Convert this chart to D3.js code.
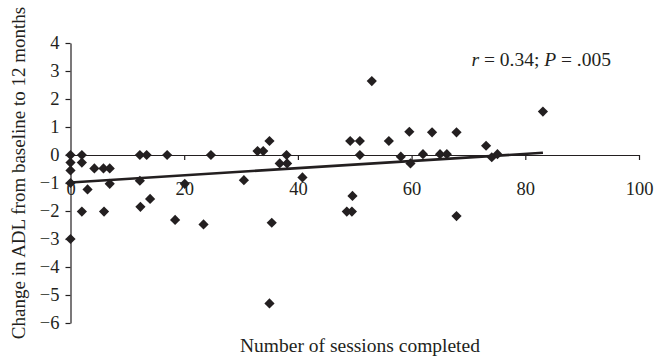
<!DOCTYPE html>
<html>
<head>
<meta charset="utf-8">
<script src="https://cdn.jsdelivr.net/npm/d3@7"></script>
<style>
  body { margin: 0; background: #fff; }
  svg text { font-family: "Liberation Serif", "Times New Roman", serif; fill: #231f20; }
  .axis path, .axis line { stroke: #231f20; stroke-width: 1.2; }
</style>
</head>
<body>
<div id="container"></div>
<script>
// sessions completed vs change in ADL
var sessions = [0, 0, 0, 0, 0, 2, 2, 2, 3, 4.2, 5.8, 5.9, 6.9, 6.9,
    12.2, 12.2, 12.3, 13.4, 14, 17, 18.4, 20.1, 23.4, 24.7,
    30.5, 32.9, 33.9, 35, 35, 35.4, 36.8, 38, 38.1, 40.8,
    48.6, 49.2, 49.5, 49.6, 50.9, 50.9, 53, 56, 58.1, 59.6, 59.8,
    62, 63.6, 65, 66.2, 67.9, 67.9, 73.1, 74.1, 75.1, 83.1];
var adlChange = [0, -0.27, -0.55, -1.0, -3.0, 0, -0.27, -2.02, -1.23, -0.48, -0.48, -2.02, -0.48, -1.03,
    0, -0.92, -1.85, 0, -1.57, 0, -2.32, -1.03, -2.48, 0,
    -0.9, 0.14, 0.14, 0.5, -5.3, -2.42, -0.3, 0, -0.3, -0.8,
    -2.02, 0.5, -2.02, -1.46, 0.5, 0, 2.64, 0.5, -0.06, 0.83, -0.3,
    0.03, 0.81, 0.03, 0.03, 0.81, -2.18, 0.33, -0.08, 0.03, 1.55];
var xTicks = [0, 20, 40, 60, 80, 100];
var yTicks = [4, 3, 2, 1, 0, -1, -2, -3, -4, -5, -6];
var trend = [[0, -0.98], [83.1, 0.08]];

var width = 656, height = 356;
var svg = d3.select("#container").append("svg")
    .attr("width", width).attr("height", height);

var x = d3.scaleLinear().domain([0, 100]).range([70.5, 639]);
var y = d3.scaleLinear().domain([4, -6]).range([43, 323]);

// y axis
svg.append("g")
    .attr("class", "axis")
    .attr("transform", "translate(" + x(0) + ",0)")
    .call(d3.axisLeft(y).tickValues(yTicks).tickSize(5).tickSizeOuter(0).tickPadding(6)
        .tickFormat(function(d) { return d < 0 ? "\u2212" + Math.abs(d) : d; }))
    .call(function(g) {
        g.selectAll("text").style("font-size", "18.5px");
    });

// x axis sits at y = 0
var xg = svg.append("g")
    .attr("class", "axis")
    .attr("transform", "translate(0," + y(0) + ")")
    .call(d3.axisBottom(x).tickValues(xTicks).tickSize(5).tickSizeOuter(0).tickPadding(22));
xg.selectAll("text").style("font-size", "18.5px");
xg.selectAll(".tick").filter(function(d) { return d === 0; }).select("line").remove();

// trend line
svg.append("path")
    .datum(trend)
    .attr("fill", "none")
    .attr("stroke", "#231f20")
    .attr("stroke-width", 2.6)
    .attr("d", d3.line().x(function(d) { return x(d[0]); }).y(function(d) { return y(d[1]); }));

// points
var diamond = d3.symbol().type(d3.symbolSquare).size(52);
svg.selectAll(".point")
    .data(sessions)
    .enter().append("path")
    .attr("class", "point")
    .attr("fill", "#231f20")
    .attr("d", diamond)
    .attr("transform", function(d, i) {
        return "translate(" + x(d) + "," + y(adlChange[i]) + ") rotate(45)";
    });

// annotation
var note = svg.append("text")
    .attr("x", 611).attr("y", 66)
    .attr("text-anchor", "end")
    .style("font-size", "19.5px");
note.append("tspan").style("font-style", "italic").text("r");
note.append("tspan").text(" = 0.34; ");
note.append("tspan").style("font-style", "italic").text("P");
note.append("tspan").text(" = .005");

// axis titles
svg.append("text")
    .attr("x", 360).attr("y", 352)
    .attr("text-anchor", "middle")
    .style("font-size", "19.5px")
    .text("Number of sessions completed");

svg.append("text")
    .attr("transform", "translate(25,173) rotate(-90)")
    .attr("text-anchor", "middle")
    .style("font-size", "19px")
    .text("Change in ADL from baseline to 12 months");
</script>
</body>
</html>
